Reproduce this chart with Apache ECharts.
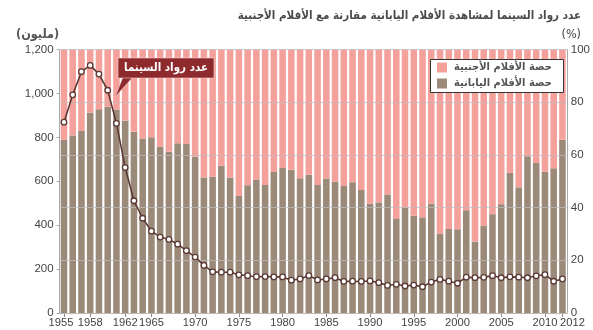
<!DOCTYPE html>
<html>
<head>
<meta charset="utf-8">
<script src="https://cdn.jsdelivr.net/npm/echarts@6/dist/echarts.min.js"></script>
<style>
  html, body { margin: 0; padding: 0; background: #ffffff; }
  #chart { width: 593px; height: 330px; }
</style>
</head>
<body>
<div id="chart"></div>
<script>
// Years on the category axis
const years = [
  1955, 1956, 1957, 1958, 1959, 1960, 1961, 1962, 1963, 1964,
  1965, 1966, 1967, 1968, 1969, 1970, 1971, 1972, 1973, 1974,
  1975, 1976, 1977, 1978, 1979, 1980, 1981, 1982, 1983, 1984,
  1985, 1986, 1987, 1988, 1989, 1990, 1991, 1992, 1993, 1994,
  1995, 1996, 1997, 1998, 1999, 2000, 2001, 2002, 2003, 2004,
  2005, 2006, 2007, 2008, 2009, 2010, 2011, 2012
];

// Years that carry a label and a tick
const labeledYears = [1955, 1958, 1962, 1965, 1970, 1975, 1980, 1985, 1990, 1995, 2000, 2005, 2010, 2012];

// Share of Japanese films (%)
const japaneseShare = [
  65.7, 67.4, 69.1, 76.0, 77.3, 78.3, 77.2, 73.0, 68.8, 66.2,
  66.7, 63.1, 61.2, 64.4, 64.1, 59.3, 51.4, 51.7, 55.9, 51.4,
  44.4, 48.5, 50.7, 48.6, 53.5, 55.0, 54.4, 51.1, 52.5, 48.6,
  51.0, 49.8, 48.2, 49.6, 46.7, 41.5, 42.0, 45.0, 35.7, 40.1,
  36.9, 36.3, 41.5, 30.2, 31.9, 31.8, 39.0, 27.1, 33.0, 37.5,
  41.3, 53.2, 47.7, 59.5, 56.9, 53.6, 54.9, 65.7
];

// Share of foreign films (%)
const foreignShare = [
  34.3, 32.6, 30.9, 24.0, 22.7, 21.7, 22.8, 27.0, 31.2, 33.8,
  33.3, 36.9, 38.8, 35.6, 35.9, 40.7, 48.6, 48.3, 44.1, 48.6,
  55.6, 51.5, 49.3, 51.4, 46.5, 45.0, 45.6, 48.9, 47.5, 51.4,
  49.0, 50.2, 51.8, 50.4, 53.3, 58.5, 58.0, 55.0, 64.3, 59.9,
  63.1, 63.7, 58.5, 69.8, 68.1, 68.2, 61.0, 72.9, 67.0, 62.5,
  58.7, 46.8, 52.3, 40.5, 43.1, 46.4, 45.1, 34.3
];

// Cinema attendance (millions)
const attendance = [
  868.9, 993.7, 1098.9, 1127.5, 1088.1, 1014.4, 863.4, 662.3, 511.1, 431.5,
  372.7, 345.8, 335.1, 313.4, 283.9, 254.8, 216.8, 187.4, 185.7, 185.7,
  174.0, 170.0, 165.2, 166.0, 164.4, 164.4, 149.5, 155.3, 170.4, 150.5,
  155.1, 160.8, 143.9, 144.8, 143.6, 146.0, 138.3, 125.6, 130.7, 123.0,
  127.0, 119.6, 140.7, 153.1, 144.8, 135.4, 163.3, 160.8, 162.3, 170.1,
  160.5, 164.6, 163.2, 160.5, 169.3, 174.4, 144.7, 155.2
];

const titleText = 'عدد رواد السينما لمشاهدة الأفلام اليابانية مقارنة مع الأفلام الأجنبية';
const nameForeign = 'حصة الأفلام الأجنبية';
const nameJapanese = 'حصة الأفلام اليابانية';
const calloutText = 'عدد رواد السينما';

const arabicFont = '"DejaVu Sans Condensed", "DejaVu Sans", sans-serif';
const numFont = '"Liberation Sans", Arial, sans-serif';

const colorForeign = '#f3a19a';
const colorJapanese = '#9b8a7a';
const colorLine = '#5b3934';
const calloutRed = '#8d2a2e';

const chart = echarts.init(document.getElementById('chart'));

const showYear = (idx, val) => labeledYears.indexOf(Number(val)) !== -1;

chart.setOption({
  animation: false,
  backgroundColor: '#ffffff',
  grid: { left: 59.6, right: 25.5, top: 49.5, bottom: 17 },
  title: [
    {
      text: titleText,
      right: 7, top: 5,
      textStyle: { fontFamily: arabicFont, fontSize: 11.5, fontWeight: 'bold', color: '#4a4a4a' }
    },
    {
      text: '(مليون)',
      left: 11, top: 23,
      textStyle: { fontFamily: arabicFont, fontSize: 12.5, fontWeight: 'bold', color: '#555' }
    },
    {
      text: '(%)',
      right: 7, top: 23,
      textStyle: { fontFamily: arabicFont, fontSize: 12.5, fontWeight: 'normal', color: '#444' }
    }
  ],
  legend: {
    orient: 'vertical',
    left: 437, top: 62,
    padding: 0,
    itemGap: 5,
    itemWidth: 10,
    itemHeight: 10,
    icon: 'rect',
    z: 8,
    data: [nameForeign, nameJapanese],
    textStyle: { fontFamily: arabicFont, fontSize: 11, fontWeight: 'bold', color: '#555', padding: [0, 0, 0, 2] }
  },
  xAxis: {
    type: 'category',
    data: years.map(String),
    boundaryGap: true,
    axisLine: { show: true, lineStyle: { color: '#aaaaaa' } },
    axisTick: { show: true, alignWithLabel: true, interval: showYear, length: 4, lineStyle: { color: '#888' } },
    axisLabel: {
      interval: showYear,
      showMinLabel: true,
      showMaxLabel: true,
      hideOverlap: false,
      margin: 4,
      fontFamily: numFont, fontSize: 11.2, color: '#444',
      formatter: (val) => {
        if (val === '1955') return '{first|' + val + '}';
        if (val === '2012') return '{last|' + val + '}';
        return val;
      },
      rich: {
        first: { fontFamily: numFont, fontSize: 11.2, color: '#444', padding: [0, 6, 0, 0] },
        last: { fontFamily: numFont, fontSize: 11.2, color: '#444', padding: [0, 0, 0, 20] }
      }
    }
  },
  yAxis: [
    {
      type: 'value',
      min: 0, max: 1200, interval: 200,
      axisLine: { show: true, lineStyle: { color: '#aaaaaa' } },
      axisTick: { show: true, length: 3, lineStyle: { color: '#aaa' } },
      splitLine: { show: false },
      axisLabel: { margin: 6, fontFamily: numFont, fontSize: 11.5, color: '#444' }
    },
    {
      type: 'value',
      position: 'right',
      min: 0, max: 100, interval: 20,
      z: 3,
      axisLine: { show: true, lineStyle: { color: '#aaaaaa' } },
      axisTick: { show: false },
      splitLine: { show: true, lineStyle: { color: 'rgba(190,190,190,0.75)', width: 1 } },
      axisLabel: { margin: 4, fontFamily: numFont, fontSize: 11.5, color: '#444' }
    }
  ],
  series: [
    {
      name: nameJapanese,
      type: 'bar',
      yAxisIndex: 1,
      stack: 'share',
      barCategoryGap: '25%',
      itemStyle: { color: colorJapanese },
      data: japaneseShare
    },
    {
      name: nameForeign,
      type: 'bar',
      yAxisIndex: 1,
      stack: 'share',
      barCategoryGap: '25%',
      itemStyle: { color: colorForeign },
      data: foreignShare
    },
    {
      name: calloutText,
      type: 'line',
      yAxisIndex: 0,
      z: 6,
      symbol: 'circle',
      symbolSize: 5.5,
      showSymbol: true,
      lineStyle: { color: colorLine, width: 1.6 },
      itemStyle: { color: '#ffffff', borderColor: colorLine, borderWidth: 1.3 },
      data: attendance
    }
  ],
  graphic: [
    // legend frame
    {
      type: 'rect',
      z: 7,
      shape: { x: 430.5, y: 59.5, width: 133, height: 33 },
      style: { fill: '#ffffff', stroke: '#333333', lineWidth: 1 }
    },
    // callout for the attendance line
    {
      type: 'polygon',
      z: 20,
      shape: { points: [[123, 77], [133, 77], [115, 97]] },
      style: { fill: calloutRed, stroke: '#f6d0cc', lineWidth: 0.6 }
    },
    {
      type: 'rect',
      z: 21,
      shape: { x: 118, y: 58, width: 96, height: 20 },
      style: { fill: calloutRed, stroke: '#f6d0cc', lineWidth: 0.6 }
    },
    {
      type: 'text',
      z: 22,
      x: 166, y: 68,
      style: {
        text: calloutText,
        fill: '#ffffff',
        font: 'bold 11.5px ' + arabicFont,
        align: 'center',
        verticalAlign: 'middle'
      }
    }
  ]
});
</script>
</body>
</html>
